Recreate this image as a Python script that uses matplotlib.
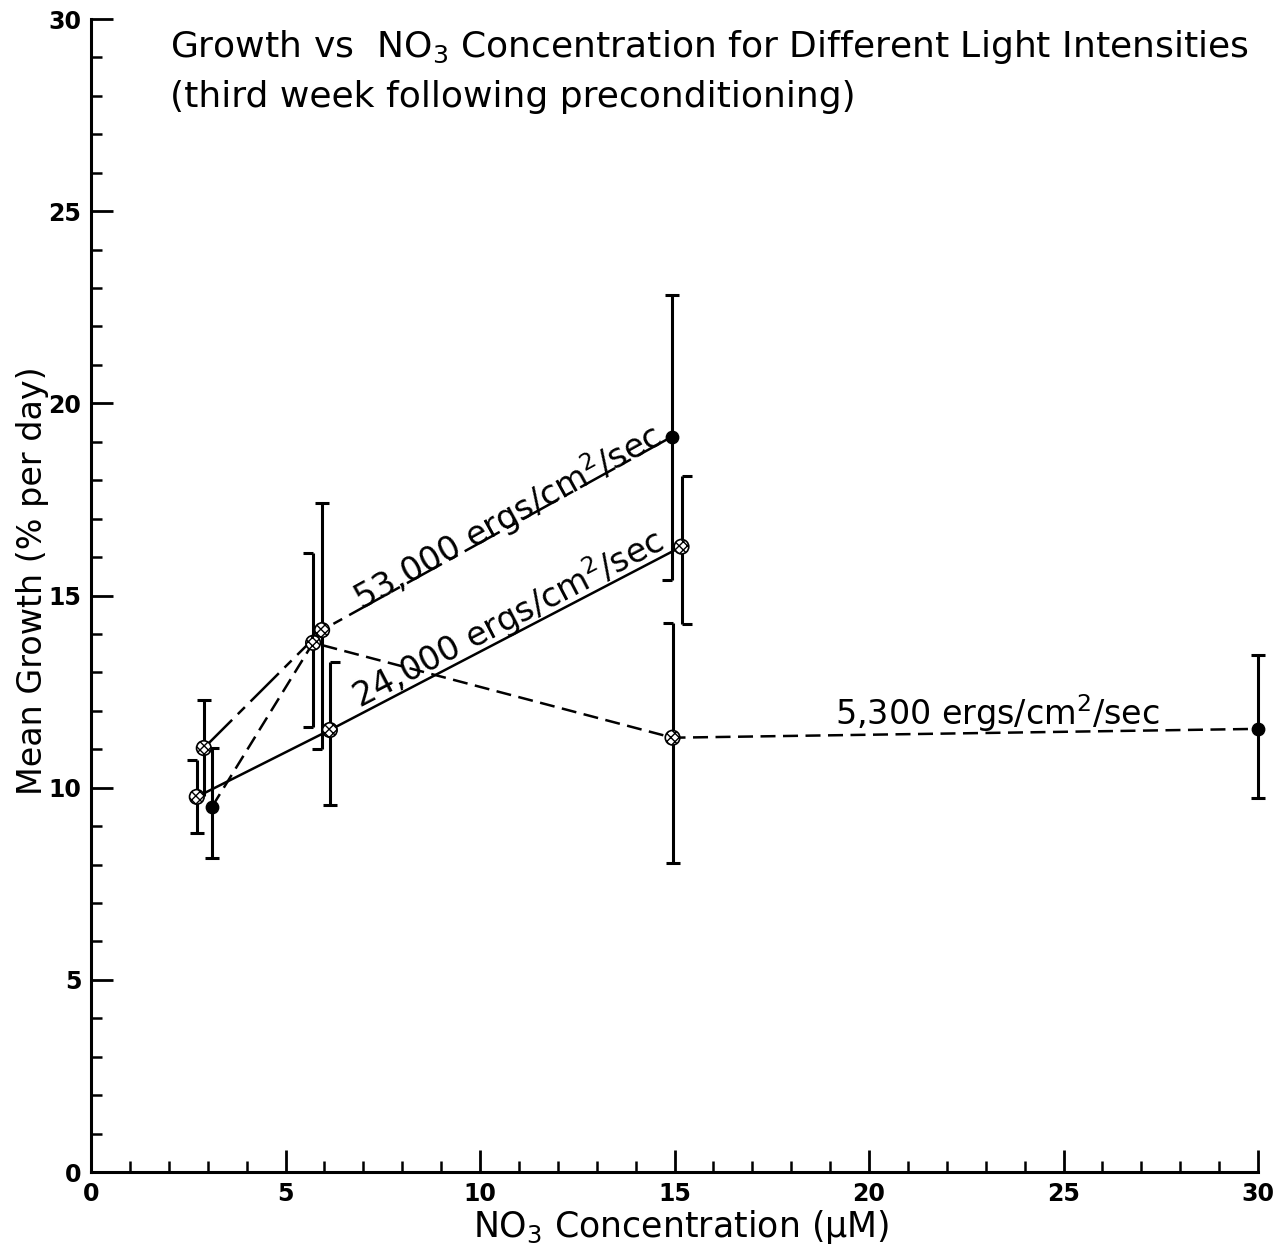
import matplotlib
matplotlib.use("Agg")
import matplotlib.pyplot as plt
import numpy as np

plt.rcParams['font.family'] = ['DejaVu Sans']
plt.rcParams['mathtext.default'] = 'regular'

# ---- data ----
x53 = [2.90, 5.94, 14.93]
y53 = [11.03, 14.10, 19.13]
lo53 = [1.25, 3.10, 3.73]
hi53 = [1.25, 3.30, 3.69]
top53 = ['_', '_', '_']
bot53 = [None, 0, 0]
fill53 = [False, False, True]

x24 = [2.72, 6.14, 15.18]
y24 = [9.76, 11.50, 16.27]
lo24 = [0.94, 1.95, 2.00]
hi24 = [0.96, 1.78, 1.85]
top24 = [0, 1, 1]
bot24 = ['_', '_', 1]
fill24 = [False, False, False]

x5 = [3.11, 5.71, 14.95, 30.0]
y5 = [9.50, 13.77, 11.30, 11.53]
lo5 = [1.33, 2.19, 3.25, 1.80]
hi5 = [1.53, 2.33, 2.98, 1.92]
top5 = ['_', 0, 0, '_']
bot5 = ['_', 0, '_', '_']
fill5 = [True, False, False, True]

title1 = "Growth vs  NO$_3$ Concentration for Different Light Intensities"
title2 = "(third week following preconditioning)"
lab53 = "53,000 ergs/cm$^2$/sec"
lab24 = "24,000 ergs/cm$^2$/sec"
lab5 = "5,300 ergs/cm$^2$/sec"
xlabel = "NO$_3$ Concentration (\u03bcM)"
ylabel = "Mean Growth (% per day)"

W, H = 1288, 1257
fig = plt.figure(figsize=(W / 100, H / 100), dpi=100)
ax = fig.add_axes([91 / W, 1 - 1172 / H, (1258 - 91) / W, (1172 - 19) / H])
ax.set_xlim(0, 30)
ax.set_ylim(0, 30)
for s in ['top', 'right']:
    ax.spines[s].set_visible(False)
for s in ['left', 'bottom']:
    ax.spines[s].set_linewidth(2.2)

ax.set_xticks(np.arange(0, 31, 5))
ax.set_yticks(np.arange(0, 31, 5))
ax.set_xticks(np.arange(0, 31, 1), minor=True)
ax.set_yticks(np.arange(0, 31, 1), minor=True)
ax.tick_params(which='major', direction='in', length=16, width=2.0, labelsize=17, pad=7)
ax.tick_params(which='minor', direction='in', length=8, width=1.8)
for t in ax.get_xticklabels() + ax.get_yticklabels():
    t.set_fontweight('bold')

lw = 1.8
ax.plot(x53, y53, color='black', lw=lw, ls=(0, (16, 3.2, 4, 3.2)))
ax.plot(x24, y24, color='black', lw=lw, ls='-')
ax.plot(x5, y5, color='black', lw=lw, ls=(0, (6, 3)))


def draw_err(xs, ys, lo, hi, tops, bots):
    for x, y, l, h, t, b in zip(xs, ys, lo, hi, tops, bots):
        ax.vlines(x, y - l, y + h, color='black', lw=2.2, clip_on=False)
        for yy, m in ((y + h, t), (y - l, b)):
            if m is None:
                continue
            ms = 10 if m == '_' else 7
            ax.plot([x], [yy], marker=m, ms=ms, mew=2.2, color='black', clip_on=False)


def draw_pts(xs, ys, fills):
    for x, y, f in zip(xs, ys, fills):
        if f:
            ax.scatter([x], [y], s=80, color='black', zorder=5, clip_on=False)
        else:
            ax.scatter([x], [y], s=110, facecolor='white', edgecolor='black',
                       hatch='xxxx', linewidth=1.2, zorder=5, clip_on=False)


draw_err(x53, y53, lo53, hi53, top53, bot53)
draw_err(x24, y24, lo24, hi24, top24, bot24)
draw_err(x5, y5, lo5, hi5, top5, bot5)
draw_pts(x53, y53, fill53)
draw_pts(x24, y24, fill24)
draw_pts(x5, y5, fill5)


def angle(xa, ya, xb, yb):
    p = ax.transData.transform([(xa, ya), (xb, yb)])
    return np.degrees(np.arctan2(p[1, 1] - p[0, 1], p[1, 0] - p[0, 0]))


a53 = angle(x53[1], y53[1], x53[2], y53[2])
a24 = angle(x24[1], y24[1], x24[2], y24[2])
ax.text(10.70, 17.05, lab53, rotation=a53, ha='center', va='center',
        fontsize=24, rotation_mode='anchor')
ax.text(10.70, 14.40, lab24, rotation=a24, ha='center', va='center',
        fontsize=24, rotation_mode='anchor')
ax.text(23.29, 11.94, lab5, ha='center', va='center', fontsize=24)

ax.text(2.03, 29.27, title1, ha='left', va='center', fontsize=26)
ax.text(2.03, 27.97, title2, ha='left', va='center', fontsize=26)

ax.set_xlabel(xlabel, fontsize=25)
ax.set_ylabel(ylabel, fontsize=24)
ax.xaxis.set_label_coords(0.5056, -0.031)
ax.yaxis.set_label_coords(-0.036, 0.513)

fig.savefig("out.png", dpi=100)
